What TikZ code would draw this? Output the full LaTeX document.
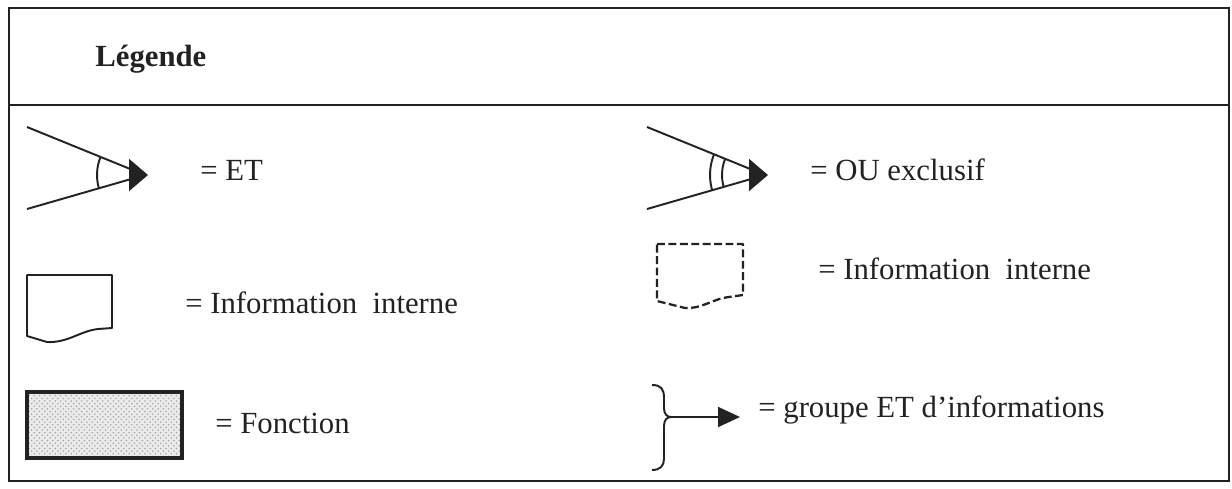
\documentclass[tikz,border=0pt]{standalone}
\usepackage{fontspec}
\setmainfont{Liberation Serif}
\usetikzlibrary{arrows.meta, patterns, positioning}
\definecolor{legink}{HTML}{222222}

\begin{document}
\begin{tikzpicture}[
    x=0.02cm, y=-0.02cm,
    outline/.style={draw=legink, line width=1.1pt},
    legendtext/.style={anchor=base west, inner sep=0pt, text=legink, font=\fontsize{17.5}{20}\selectfont},
    headtext/.style={legendtext, font=\fontsize{17.5}{20}\selectfont\bfseries},
    wire/.style={draw=legink, line width=1.1pt, line join=round},
    tiphead/.style={-{Triangle[length=0.38cm, width=0.64cm]}, draw=legink, fill=legink, line width=1.1pt},
    smallhead/.style={-{Triangle[length=0.44cm, width=0.4cm]}, draw=legink, fill=legink, line width=1.1pt},
    dashdoc/.style={wire, line width=1.3pt, dash pattern=on 4.5pt off 2pt},
    fonction/.style={draw=legink, line width=2pt, pattern=crosshatch dots, pattern color=black!35}
]
\useasboundingbox (0,0) rectangle (1232,488);

% Frame and header
\draw[outline] (9,8) rectangle (1229,481);
\draw[outline] (9,105) -- (1229,105);
\node[headtext] (title) at (95,66) {Légende};

% ET
\coordinate (etA) at (27,127);
\coordinate (etB) at (27,209);
\coordinate (etV) at (145,175);
\coordinate (etT) at (148,175);
\draw[wire] (etA) -- (etV) -- (etB);
\draw[tiphead] (129,175) -- (etT);
\draw[wire] (etV) ++(158:0.96cm) arc[start angle=158, end angle=196, radius=0.96cm];
\node[legendtext] (etlabel) at (200,180) {= ET};

% OU exclusif
\coordinate (ouA) at (647,127);
\coordinate (ouB) at (647,209);
\coordinate (ouV) at (765,175);
\coordinate (ouT) at (768,175);
\draw[wire] (ouA) -- (ouV) -- (ouB);
\draw[tiphead] (749,175) -- (ouT);
\draw[wire] (ouV) ++(158:1.1cm) arc[start angle=158, end angle=196, radius=1.1cm];
\draw[wire] (ouV) ++(158:0.86cm) arc[start angle=158, end angle=196, radius=0.86cm];
\node[legendtext] (oulabel) at (810,180) {= OU exclusif};

% Information interne (document shapes)
\draw[wire] (27,275) -- (112,275) -- (112,328) -- (98,329)
    .. controls (80,331) and (68,343) .. (47,342) -- (27,336) -- cycle;
\node[legendtext] (infolabel) at (185,313) {= Information\ \ interne};

\draw[dashdoc] (657,244) -- (743,244) -- (743,295) -- (729,297)
    .. controls (712,299) and (702,309) .. (685,308) -- (657,301) -- cycle;
\node[legendtext] (dashlabel) at (818,279) {= Information\ \ interne};

% Fonction
\fill[black!8] (27,392) rectangle (182,458);
\draw[fonction] (27,392) rectangle (182,458);
\node[legendtext] (fnlabel) at (215,433) {= Fonction};

% Groupe ET
\coordinate (brtip) at (671,417);
\coordinate (grT) at (740,417);
\draw[wire] (652,385) .. controls (661,385) and (664,389) .. (664,398) -- (664,408)
    .. controls (664,414) and (667,417) .. (brtip)
    .. controls (667,417) and (664,420) .. (664,426) -- (664,459)
    .. controls (664,466) and (660,470) .. (652,470);
\draw[smallhead] (brtip) -- (grT);
\node[legendtext] (grouplabel) at (758,417) {= groupe ET d’informations};

\end{tikzpicture}
\end{document}
